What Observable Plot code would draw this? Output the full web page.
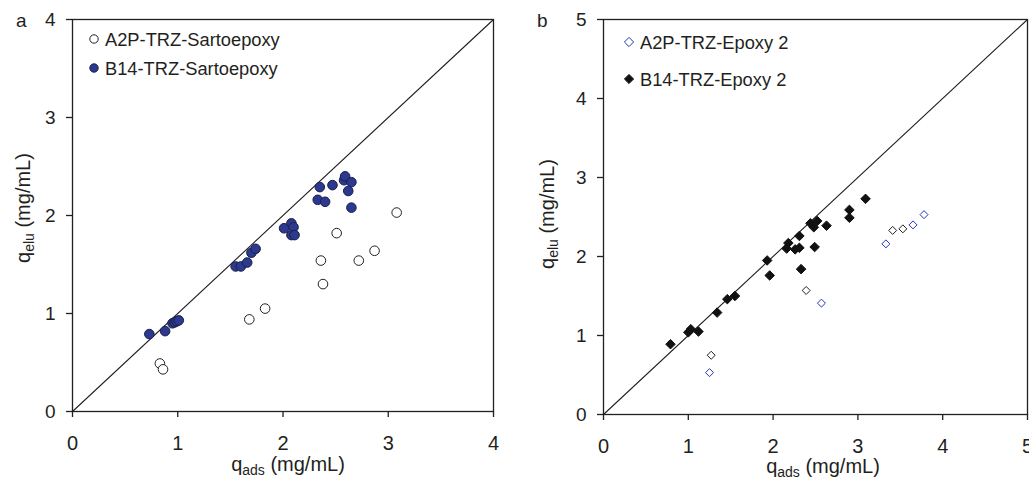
<!DOCTYPE html>
<html><head><meta charset="utf-8">
<script src="https://cdn.jsdelivr.net/npm/d3@7"></script>
<script src="https://cdn.jsdelivr.net/npm/@observablehq/plot@0.6"></script>
<style>
html,body{margin:0;padding:0;background:#fff;}
#wrap{position:relative;width:1029px;height:479px;overflow:hidden;font-family:"Liberation Sans",Arial,sans-serif;}
.panel{position:absolute;top:0;}
.panel svg{max-width:none !important;display:block;}
</style></head><body>
<div id="wrap"><div class="panel" id="pa" style="left:0px"></div><div class="panel" id="pb" style="left:520px"></div></div>
<script>
// ---------- Panel a data ----------
const panelALabel = "a";
const legendA = ["A2P-TRZ-Sartoepoxy", "B14-TRZ-Sartoepoxy"];
const ticksA = [0, 1, 2, 3, 4];
const diagA = [0, 4];
const a2pSartoX = [0.83, 0.86, 1.68, 1.83, 2.36, 2.38, 2.51, 2.72, 2.87, 3.08];
const a2pSartoY = [0.49, 0.43, 0.94, 1.05, 1.54, 1.30, 1.82, 1.54, 1.64, 2.03];
const b14SartoX = [0.73, 0.88, 0.95, 0.97, 0.99, 1.01, 1.55, 1.60, 1.66, 1.70, 1.74, 2.01, 2.08, 2.10, 2.08, 2.11, 2.35, 2.47, 2.33, 2.40, 2.58, 2.59, 2.65, 2.62, 2.65];
const b14SartoY = [0.79, 0.82, 0.90, 0.91, 0.92, 0.93, 1.48, 1.48, 1.52, 1.62, 1.66, 1.87, 1.92, 1.88, 1.80, 1.80, 2.29, 2.31, 2.16, 2.14, 2.36, 2.40, 2.34, 2.25, 2.08];

// ---------- Panel b data ----------
const panelBLabel = "b";
const legendB = ["A2P-TRZ-Epoxy 2", "B14-TRZ-Epoxy 2"];
const ticksB = [0, 1, 2, 3, 4, 5];
const diagB = [0, 5];
const a2pEpoxyX = [1.25, 2.57, 3.33, 3.65, 3.78];
const a2pEpoxyY = [0.53, 1.41, 2.16, 2.40, 2.53];
const a2pEpoxyDarkX = [1.27, 2.39, 3.41, 3.53];
const a2pEpoxyDarkY = [0.75, 1.57, 2.33, 2.35];
const b14EpoxyX = [0.79, 1.00, 1.03, 1.12, 1.34, 1.46, 1.55, 1.93, 1.96, 2.18, 2.16, 2.26, 2.31, 2.31, 2.33, 2.49, 2.44, 2.48, 2.52, 2.63, 2.90, 2.90, 3.09];
const b14EpoxyY = [0.89, 1.04, 1.08, 1.05, 1.29, 1.46, 1.50, 1.95, 1.76, 2.17, 2.10, 2.09, 2.11, 2.26, 1.84, 2.12, 2.42, 2.37, 2.45, 2.39, 2.59, 2.49, 2.73];

const FONT = "Liberation Sans, Arial, Helvetica, sans-serif";
const INK = "#231f20";
const pts = (xs, ys) => xs.map((x, i) => ({x, y: ys[i]}));
const fmt = d => String(d);

function addTexts(svg, o) {
  const s = d3.select(svg);
  const g = s.append("g").attr("font-family", FONT).attr("fill", INK).attr("text-anchor", "start");
  // panel letter
  g.append("text").attr("x", o.letterX).attr("y", 27).attr("font-size", 19).text(o.letter);
  // x title
  const xt = g.append("text").attr("x", o.xTitleX).attr("y", o.xTitleY).attr("text-anchor", "middle").attr("font-size", 20);
  xt.append("tspan").text("q");
  xt.append("tspan").attr("font-size", 14).attr("dy", 4).text("ads");
  xt.append("tspan").attr("dy", -4).text(" (mg/mL)");
  // y title
  const yt = g.append("text").attr("transform", `translate(${o.yTitleX},${o.yTitleY}) rotate(-90)`).attr("text-anchor", "middle").attr("font-size", 20);
  yt.append("tspan").text("q");
  yt.append("tspan").attr("font-size", 14).attr("dy", 4).text("elu");
  yt.append("tspan").attr("dy", -4).text(" (mg/mL)");
  // legend
  o.legend.forEach((lab, i) => {
    const cy = o.legY[i];
    if (o.shape === "circle") {
      g.append("circle").attr("cx", o.legX).attr("cy", cy).attr("r", 4.2)
        .attr("fill", o.legFill[i]).attr("stroke", o.legStroke[i]).attr("stroke-width", 1);
    } else {
      const h = 4.6;
      g.append("path").attr("d", `M${o.legX},${cy - h}L${o.legX + h},${cy}L${o.legX},${cy + h}L${o.legX - h},${cy}Z`)
        .attr("fill", o.legFill[i]).attr("stroke", o.legStroke[i]).attr("stroke-width", 1);
    }
    g.append("text").attr("x", o.legX + 11).attr("y", cy + 6.5).attr("font-size", 18.3).attr("text-anchor", "start").text(lab);
  });
}

const styleObj = {fontFamily: FONT, fontSize: "18px", color: INK, background: "white"};

// ---------- Panel a ----------
const plotA = Plot.plot({
  width: 520, height: 479,
  marginLeft: 72, marginRight: 27, marginTop: 19, marginBottom: 68,
  style: styleObj,
  x: {domain: [0, 4]},
  y: {domain: [0, 4]},
  marks: [
    Plot.line(diagA, {x: d => d, y: d => d, stroke: INK, strokeWidth: 1.1}),
    Plot.dot(pts(a2pSartoX, a2pSartoY), {x: "x", y: "y", r: 4.8, fill: "white", stroke: INK, strokeWidth: 1}),
    Plot.dot(pts(b14SartoX, b14SartoY), {x: "x", y: "y", r: 4.8, fill: "#2b3990", stroke: "#1c1f45", strokeWidth: 1}),
    Plot.frame({stroke: INK, strokeWidth: 1.3}),
    Plot.axisX({ticks: ticksA, tickFormat: fmt, tickSize: 6, tickPadding: 18, fontSize: 20, label: null, stroke: INK, strokeWidth: 1.3}),
    Plot.axisY({ticks: ticksA, tickFormat: fmt, tickSize: 6, tickPadding: 11, fontSize: 19, label: null, stroke: INK, strokeWidth: 1.3})
  ]
});
document.getElementById("pa").appendChild(plotA);
addTexts(plotA, {
  letter: panelALabel, letterX: 16,
  xTitleX: 288, xTitleY: 471, yTitleX: 30, yTitleY: 208,
  legend: legendA, shape: "circle", legX: 94, legY: [39, 68],
  legFill: ["white", "#2b3990"], legStroke: [INK, "#1c1f45"]
});

// ---------- Panel b ----------
const plotB = Plot.plot({
  width: 509, height: 479,
  marginLeft: 83, marginRight: 2, marginTop: 19, marginBottom: 65,
  style: styleObj,
  x: {domain: [0, 5]},
  y: {domain: [0, 5]},
  marks: [
    Plot.line(diagB, {x: d => d, y: d => d, stroke: INK, strokeWidth: 1.1}),
    Plot.dot(pts(a2pEpoxyX, a2pEpoxyY), {x: "x", y: "y", symbol: "diamond2", r: 3.6, fill: "white", stroke: "#2336b5", strokeWidth: 1}),
    Plot.dot(pts(a2pEpoxyDarkX, a2pEpoxyDarkY), {x: "x", y: "y", symbol: "diamond2", r: 3.6, fill: "white", stroke: INK, strokeWidth: 1}),
    Plot.dot(pts(b14EpoxyX, b14EpoxyY), {x: "x", y: "y", symbol: "diamond2", r: 4.3, fill: "#111", stroke: "#111", strokeWidth: 1}),
    Plot.frame({stroke: INK, strokeWidth: 1.3}),
    Plot.axisX({ticks: ticksB, tickFormat: fmt, tickSize: 6, tickPadding: 18, fontSize: 20, label: null, stroke: INK, strokeWidth: 1.3}),
    Plot.axisY({ticks: ticksB, tickFormat: fmt, tickSize: 6, tickPadding: 11, fontSize: 19, label: null, stroke: INK, strokeWidth: 1.3})
  ]
});
document.getElementById("pb").appendChild(plotB);
addTexts(plotB, {
  letter: panelBLabel, letterX: 17,
  xTitleX: 303, xTitleY: 473, yTitleX: 34, yTitleY: 214,
  legend: legendB, shape: "diamond", legX: 109, legY: [42, 79],
  legFill: ["white", "#111"], legStroke: ["#2336b5", "#111"]
});
</script>
</body></html>
